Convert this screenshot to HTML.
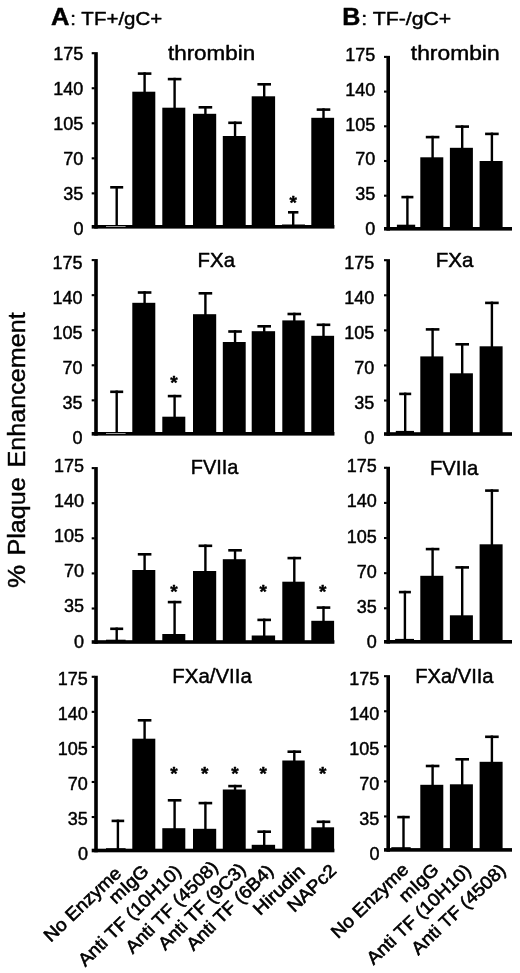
<!DOCTYPE html>
<html lang="en">
<head>
<meta charset="utf-8">
<title>Figure: % Plaque Enhancement</title>
<style>
html,body{margin:0;padding:0;background:#fff;}
body{width:520px;height:973px;overflow:hidden;}
svg{display:block;filter:grayscale(1);}
svg text{font-family:"Liberation Sans", Arial, Helvetica, sans-serif;fill:#000;stroke:#000;stroke-width:0.45px;stroke-linejoin:round;}
</style>
</head>
<body>
<svg width="520" height="973" viewBox="0 0 520 973">
<rect x="0" y="0" width="520" height="973" fill="#fff"/>
<g>
<rect x="94.20" y="52.15" width="3.60" height="176.45" fill="#000"/>
<rect x="91.70" y="52.15" width="3.00" height="2.10" fill="#000"/>
<text x="83.40" y="60.20" font-size="18" text-anchor="end" font-weight="normal">175</text>
<rect x="91.70" y="87.19" width="3.00" height="2.10" fill="#000"/>
<text x="83.40" y="95.24" font-size="18" text-anchor="end" font-weight="normal">140</text>
<rect x="91.70" y="122.23" width="3.00" height="2.10" fill="#000"/>
<text x="83.40" y="130.28" font-size="18" text-anchor="end" font-weight="normal">105</text>
<rect x="91.70" y="157.27" width="3.00" height="2.10" fill="#000"/>
<text x="83.40" y="165.32" font-size="18" text-anchor="end" font-weight="normal">70</text>
<rect x="91.70" y="192.31" width="3.00" height="2.10" fill="#000"/>
<text x="83.40" y="200.36" font-size="18" text-anchor="end" font-weight="normal">35</text>
<text x="83.40" y="235.40" font-size="18" text-anchor="end" font-weight="normal">0</text>
<rect x="91.70" y="225.00" width="242.70" height="3.60" fill="#000"/>
<rect x="115.50" y="186.00" width="2.40" height="41.40" fill="#000"/>
<rect x="110.20" y="186.00" width="13.00" height="2.60" fill="#000"/>
<rect x="106.00" y="226.00" width="19.60" height="1.00" fill="#999"/>
<rect x="143.40" y="72.30" width="2.40" height="20.40" fill="#000"/>
<rect x="137.80" y="72.30" width="13.60" height="2.60" fill="#000"/>
<rect x="132.30" y="91.70" width="23.00" height="135.70" fill="#000"/>
<rect x="173.40" y="77.80" width="2.40" height="30.90" fill="#000"/>
<rect x="167.80" y="77.80" width="13.60" height="2.60" fill="#000"/>
<rect x="162.30" y="107.70" width="23.00" height="119.70" fill="#000"/>
<rect x="204.20" y="106.00" width="2.40" height="8.80" fill="#000"/>
<rect x="198.60" y="106.00" width="13.60" height="2.60" fill="#000"/>
<rect x="193.00" y="113.80" width="23.20" height="113.60" fill="#000"/>
<rect x="233.85" y="121.50" width="2.40" height="15.50" fill="#000"/>
<rect x="228.25" y="121.50" width="13.60" height="2.60" fill="#000"/>
<rect x="222.80" y="136.00" width="22.90" height="91.40" fill="#000"/>
<rect x="263.00" y="83.00" width="2.40" height="14.30" fill="#000"/>
<rect x="257.40" y="83.00" width="13.60" height="2.60" fill="#000"/>
<rect x="251.70" y="96.30" width="23.40" height="131.10" fill="#000"/>
<rect x="292.00" y="211.00" width="2.40" height="16.40" fill="#000"/>
<rect x="288.00" y="211.00" width="10.40" height="2.60" fill="#000"/>
<rect x="282.00" y="224.50" width="23.00" height="2.90" fill="#000"/>
<rect x="322.30" y="108.30" width="2.40" height="10.50" fill="#000"/>
<rect x="316.70" y="108.30" width="13.60" height="2.60" fill="#000"/>
<rect x="311.30" y="117.80" width="22.80" height="109.60" fill="#000"/>
<text x="293.20" y="208.72" font-size="19" text-anchor="middle" font-weight="bold">*</text>
<text transform="translate(167.96 60.00) scale(1.1213 1)" font-size="20" font-weight="normal">thrombin</text>
</g>
<g>
<rect x="94.20" y="259.05" width="3.60" height="176.55" fill="#000"/>
<rect x="91.70" y="259.05" width="3.00" height="2.10" fill="#000"/>
<text x="82.60" y="269.00" font-size="18" text-anchor="end" font-weight="normal">175</text>
<rect x="91.70" y="294.11" width="3.00" height="2.10" fill="#000"/>
<text x="82.60" y="304.06" font-size="18" text-anchor="end" font-weight="normal">140</text>
<rect x="91.70" y="329.17" width="3.00" height="2.10" fill="#000"/>
<text x="82.60" y="339.12" font-size="18" text-anchor="end" font-weight="normal">105</text>
<rect x="91.70" y="364.23" width="3.00" height="2.10" fill="#000"/>
<text x="82.60" y="374.18" font-size="18" text-anchor="end" font-weight="normal">70</text>
<rect x="91.70" y="399.29" width="3.00" height="2.10" fill="#000"/>
<text x="82.60" y="409.24" font-size="18" text-anchor="end" font-weight="normal">35</text>
<text x="82.60" y="444.30" font-size="18" text-anchor="end" font-weight="normal">0</text>
<rect x="91.70" y="432.00" width="242.70" height="3.60" fill="#000"/>
<rect x="115.50" y="390.50" width="2.40" height="43.90" fill="#000"/>
<rect x="110.20" y="390.50" width="13.00" height="2.60" fill="#000"/>
<rect x="106.00" y="433.00" width="19.60" height="1.00" fill="#999"/>
<rect x="143.40" y="291.20" width="2.40" height="12.60" fill="#000"/>
<rect x="137.80" y="291.20" width="13.60" height="2.60" fill="#000"/>
<rect x="132.30" y="302.80" width="23.00" height="131.60" fill="#000"/>
<rect x="173.40" y="394.80" width="2.40" height="22.90" fill="#000"/>
<rect x="167.80" y="394.80" width="13.60" height="2.60" fill="#000"/>
<rect x="162.30" y="416.70" width="23.00" height="17.70" fill="#000"/>
<rect x="204.20" y="292.00" width="2.40" height="23.20" fill="#000"/>
<rect x="198.60" y="292.00" width="13.60" height="2.60" fill="#000"/>
<rect x="193.00" y="314.20" width="23.20" height="120.20" fill="#000"/>
<rect x="233.85" y="330.20" width="2.40" height="12.80" fill="#000"/>
<rect x="228.25" y="330.20" width="13.60" height="2.60" fill="#000"/>
<rect x="222.80" y="342.00" width="22.90" height="92.40" fill="#000"/>
<rect x="263.00" y="325.00" width="2.40" height="7.20" fill="#000"/>
<rect x="257.40" y="325.00" width="13.60" height="2.60" fill="#000"/>
<rect x="251.70" y="331.20" width="23.40" height="103.20" fill="#000"/>
<rect x="293.10" y="312.70" width="2.40" height="8.70" fill="#000"/>
<rect x="287.50" y="312.70" width="13.60" height="2.60" fill="#000"/>
<rect x="282.30" y="320.40" width="22.40" height="114.00" fill="#000"/>
<rect x="322.30" y="323.50" width="2.40" height="13.30" fill="#000"/>
<rect x="316.70" y="323.50" width="13.60" height="2.60" fill="#000"/>
<rect x="311.30" y="335.80" width="22.80" height="98.60" fill="#000"/>
<text x="174.00" y="389.12" font-size="19" text-anchor="middle" font-weight="bold">*</text>
<text transform="translate(197.62 266.70) scale(0.9889 1)" font-size="20.6" font-weight="normal">FXa</text>
</g>
<g>
<rect x="94.20" y="467.05" width="3.60" height="176.75" fill="#000"/>
<rect x="91.70" y="467.05" width="3.00" height="2.10" fill="#000"/>
<text x="84.10" y="472.00" font-size="18" text-anchor="end" font-weight="normal">175</text>
<rect x="91.70" y="502.15" width="3.00" height="2.10" fill="#000"/>
<text x="84.10" y="507.10" font-size="18" text-anchor="end" font-weight="normal">140</text>
<rect x="91.70" y="537.25" width="3.00" height="2.10" fill="#000"/>
<text x="84.10" y="542.20" font-size="18" text-anchor="end" font-weight="normal">105</text>
<rect x="91.70" y="572.35" width="3.00" height="2.10" fill="#000"/>
<text x="84.10" y="577.30" font-size="18" text-anchor="end" font-weight="normal">70</text>
<rect x="91.70" y="607.45" width="3.00" height="2.10" fill="#000"/>
<text x="84.10" y="612.40" font-size="18" text-anchor="end" font-weight="normal">35</text>
<text x="84.10" y="647.50" font-size="18" text-anchor="end" font-weight="normal">0</text>
<rect x="91.70" y="640.20" width="242.70" height="3.60" fill="#000"/>
<rect x="115.50" y="627.50" width="2.40" height="15.10" fill="#000"/>
<rect x="110.20" y="627.50" width="13.00" height="2.60" fill="#000"/>
<rect x="106.00" y="639.70" width="19.60" height="2.90" fill="#000"/>
<rect x="143.40" y="553.00" width="2.40" height="18.00" fill="#000"/>
<rect x="137.80" y="553.00" width="13.60" height="2.60" fill="#000"/>
<rect x="132.30" y="570.00" width="23.00" height="72.60" fill="#000"/>
<rect x="173.40" y="600.80" width="2.40" height="34.20" fill="#000"/>
<rect x="167.80" y="600.80" width="13.60" height="2.60" fill="#000"/>
<rect x="162.30" y="634.00" width="23.00" height="8.60" fill="#000"/>
<rect x="204.20" y="544.50" width="2.40" height="27.50" fill="#000"/>
<rect x="198.60" y="544.50" width="13.60" height="2.60" fill="#000"/>
<rect x="193.00" y="571.00" width="23.20" height="71.60" fill="#000"/>
<rect x="233.85" y="549.00" width="2.40" height="11.20" fill="#000"/>
<rect x="228.25" y="549.00" width="13.60" height="2.60" fill="#000"/>
<rect x="222.80" y="559.20" width="22.90" height="83.40" fill="#000"/>
<rect x="263.00" y="618.60" width="2.40" height="17.90" fill="#000"/>
<rect x="257.40" y="618.60" width="13.60" height="2.60" fill="#000"/>
<rect x="251.70" y="635.50" width="23.40" height="7.10" fill="#000"/>
<rect x="293.10" y="556.80" width="2.40" height="25.90" fill="#000"/>
<rect x="287.50" y="556.80" width="13.60" height="2.60" fill="#000"/>
<rect x="282.30" y="581.70" width="22.40" height="60.90" fill="#000"/>
<rect x="322.30" y="606.30" width="2.40" height="15.50" fill="#000"/>
<rect x="316.70" y="606.30" width="13.60" height="2.60" fill="#000"/>
<rect x="311.30" y="620.80" width="22.80" height="21.80" fill="#000"/>
<text x="174.00" y="597.72" font-size="19" text-anchor="middle" font-weight="bold">*</text>
<text x="263.20" y="597.72" font-size="19" text-anchor="middle" font-weight="bold">*</text>
<text x="322.70" y="597.72" font-size="19" text-anchor="middle" font-weight="bold">*</text>
<text transform="translate(190.75 474.30) scale(0.9698 1)" font-size="20.6" font-weight="normal">FVIIa</text>
</g>
<g>
<rect x="94.20" y="675.75" width="3.60" height="176.55" fill="#000"/>
<rect x="91.70" y="675.75" width="3.00" height="2.10" fill="#000"/>
<text x="87.90" y="685.10" font-size="18" text-anchor="end" font-weight="normal">175</text>
<rect x="91.70" y="710.81" width="3.00" height="2.10" fill="#000"/>
<text x="87.90" y="720.16" font-size="18" text-anchor="end" font-weight="normal">140</text>
<rect x="91.70" y="745.87" width="3.00" height="2.10" fill="#000"/>
<text x="87.90" y="755.22" font-size="18" text-anchor="end" font-weight="normal">105</text>
<rect x="91.70" y="780.93" width="3.00" height="2.10" fill="#000"/>
<text x="87.90" y="790.28" font-size="18" text-anchor="end" font-weight="normal">70</text>
<rect x="91.70" y="815.99" width="3.00" height="2.10" fill="#000"/>
<text x="87.90" y="825.34" font-size="18" text-anchor="end" font-weight="normal">35</text>
<text x="87.90" y="860.40" font-size="18" text-anchor="end" font-weight="normal">0</text>
<rect x="91.70" y="848.70" width="242.70" height="3.60" fill="#000"/>
<rect x="116.70" y="819.60" width="2.40" height="31.50" fill="#000"/>
<rect x="111.60" y="819.60" width="12.60" height="2.60" fill="#000"/>
<rect x="106.00" y="848.20" width="19.60" height="2.90" fill="#000"/>
<rect x="143.40" y="719.00" width="2.40" height="20.70" fill="#000"/>
<rect x="137.80" y="719.00" width="13.60" height="2.60" fill="#000"/>
<rect x="132.30" y="738.70" width="23.00" height="112.40" fill="#000"/>
<rect x="173.40" y="799.00" width="2.40" height="30.20" fill="#000"/>
<rect x="167.80" y="799.00" width="13.60" height="2.60" fill="#000"/>
<rect x="162.30" y="828.20" width="23.00" height="22.90" fill="#000"/>
<rect x="204.20" y="801.80" width="2.40" height="28.00" fill="#000"/>
<rect x="198.60" y="801.80" width="13.60" height="2.60" fill="#000"/>
<rect x="193.00" y="828.80" width="23.20" height="22.30" fill="#000"/>
<rect x="233.85" y="784.80" width="2.40" height="5.70" fill="#000"/>
<rect x="228.25" y="784.80" width="13.60" height="2.60" fill="#000"/>
<rect x="222.80" y="789.50" width="22.90" height="61.60" fill="#000"/>
<rect x="263.00" y="830.40" width="2.40" height="15.40" fill="#000"/>
<rect x="257.40" y="830.40" width="13.60" height="2.60" fill="#000"/>
<rect x="251.70" y="844.80" width="23.40" height="6.30" fill="#000"/>
<rect x="293.10" y="750.40" width="2.40" height="11.10" fill="#000"/>
<rect x="287.50" y="750.40" width="13.60" height="2.60" fill="#000"/>
<rect x="282.30" y="760.50" width="22.40" height="90.60" fill="#000"/>
<rect x="322.30" y="820.50" width="2.40" height="7.80" fill="#000"/>
<rect x="316.70" y="820.50" width="13.60" height="2.60" fill="#000"/>
<rect x="311.30" y="827.30" width="22.80" height="23.80" fill="#000"/>
<text x="174.00" y="780.02" font-size="19" text-anchor="middle" font-weight="bold">*</text>
<text x="204.80" y="780.02" font-size="19" text-anchor="middle" font-weight="bold">*</text>
<text x="235.00" y="780.02" font-size="19" text-anchor="middle" font-weight="bold">*</text>
<text x="263.20" y="780.02" font-size="19" text-anchor="middle" font-weight="bold">*</text>
<text x="322.70" y="780.02" font-size="19" text-anchor="middle" font-weight="bold">*</text>
<text transform="translate(172.32 682.80) scale(0.9913 1)" font-size="20.6" font-weight="normal">FXa/VIIa</text>
</g>
<g>
<rect x="386.40" y="55.85" width="3.60" height="174.75" fill="#000"/>
<rect x="384.00" y="55.85" width="2.90" height="2.10" fill="#000"/>
<text x="375.30" y="61.10" font-size="18" text-anchor="end" font-weight="normal">175</text>
<rect x="384.00" y="90.55" width="2.90" height="2.10" fill="#000"/>
<text x="375.30" y="95.80" font-size="18" text-anchor="end" font-weight="normal">140</text>
<rect x="384.00" y="125.25" width="2.90" height="2.10" fill="#000"/>
<text x="375.30" y="130.50" font-size="18" text-anchor="end" font-weight="normal">105</text>
<rect x="384.00" y="159.95" width="2.90" height="2.10" fill="#000"/>
<text x="375.30" y="165.20" font-size="18" text-anchor="end" font-weight="normal">70</text>
<rect x="384.00" y="194.65" width="2.90" height="2.10" fill="#000"/>
<text x="375.30" y="199.90" font-size="18" text-anchor="end" font-weight="normal">35</text>
<text x="375.30" y="234.60" font-size="18" text-anchor="end" font-weight="normal">0</text>
<rect x="384.00" y="227.00" width="128.00" height="3.60" fill="#000"/>
<rect x="406.20" y="195.80" width="2.40" height="29.90" fill="#000"/>
<rect x="401.40" y="195.80" width="12.00" height="2.60" fill="#000"/>
<rect x="396.90" y="224.70" width="18.30" height="4.70" fill="#000"/>
<rect x="431.40" y="135.80" width="2.40" height="22.50" fill="#000"/>
<rect x="425.80" y="135.80" width="13.60" height="2.60" fill="#000"/>
<rect x="420.30" y="157.30" width="23.00" height="72.10" fill="#000"/>
<rect x="461.00" y="125.30" width="2.40" height="23.50" fill="#000"/>
<rect x="455.40" y="125.30" width="13.60" height="2.60" fill="#000"/>
<rect x="449.90" y="147.80" width="23.00" height="81.60" fill="#000"/>
<rect x="490.70" y="132.60" width="2.40" height="29.40" fill="#000"/>
<rect x="485.10" y="132.60" width="13.60" height="2.60" fill="#000"/>
<rect x="479.60" y="161.00" width="23.00" height="68.40" fill="#000"/>
<text transform="translate(410.86 59.80) scale(1.1410 1)" font-size="20" font-weight="normal">thrombin</text>
</g>
<g>
<rect x="386.40" y="259.15" width="3.60" height="176.65" fill="#000"/>
<rect x="384.00" y="259.15" width="2.90" height="2.10" fill="#000"/>
<text x="374.20" y="268.70" font-size="18" text-anchor="end" font-weight="normal">175</text>
<rect x="384.00" y="294.23" width="2.90" height="2.10" fill="#000"/>
<text x="374.20" y="303.78" font-size="18" text-anchor="end" font-weight="normal">140</text>
<rect x="384.00" y="329.31" width="2.90" height="2.10" fill="#000"/>
<text x="374.20" y="338.86" font-size="18" text-anchor="end" font-weight="normal">105</text>
<rect x="384.00" y="364.39" width="2.90" height="2.10" fill="#000"/>
<text x="374.20" y="373.94" font-size="18" text-anchor="end" font-weight="normal">70</text>
<rect x="384.00" y="399.47" width="2.90" height="2.10" fill="#000"/>
<text x="374.20" y="409.02" font-size="18" text-anchor="end" font-weight="normal">35</text>
<text x="374.20" y="444.10" font-size="18" text-anchor="end" font-weight="normal">0</text>
<rect x="384.00" y="432.20" width="128.00" height="3.60" fill="#000"/>
<rect x="404.00" y="392.60" width="2.40" height="39.30" fill="#000"/>
<rect x="399.20" y="392.60" width="12.00" height="2.60" fill="#000"/>
<rect x="395.80" y="430.90" width="18.20" height="3.70" fill="#000"/>
<rect x="431.40" y="328.10" width="2.40" height="29.30" fill="#000"/>
<rect x="425.80" y="328.10" width="13.60" height="2.60" fill="#000"/>
<rect x="420.30" y="356.40" width="23.00" height="78.20" fill="#000"/>
<rect x="461.00" y="343.00" width="2.40" height="31.30" fill="#000"/>
<rect x="455.40" y="343.00" width="13.60" height="2.60" fill="#000"/>
<rect x="449.90" y="373.30" width="23.00" height="61.30" fill="#000"/>
<rect x="490.70" y="301.60" width="2.40" height="45.70" fill="#000"/>
<rect x="485.10" y="301.60" width="13.60" height="2.60" fill="#000"/>
<rect x="479.60" y="346.30" width="23.00" height="88.30" fill="#000"/>
<text transform="translate(435.70 267.30) scale(1.0000 1)" font-size="20.6" font-weight="normal">FXa</text>
</g>
<g>
<rect x="386.40" y="466.75" width="3.60" height="176.85" fill="#000"/>
<rect x="384.00" y="466.75" width="2.90" height="2.10" fill="#000"/>
<text x="376.80" y="472.30" font-size="18" text-anchor="end" font-weight="normal">175</text>
<rect x="384.00" y="501.87" width="2.90" height="2.10" fill="#000"/>
<text x="376.80" y="507.42" font-size="18" text-anchor="end" font-weight="normal">140</text>
<rect x="384.00" y="536.99" width="2.90" height="2.10" fill="#000"/>
<text x="376.80" y="542.54" font-size="18" text-anchor="end" font-weight="normal">105</text>
<rect x="384.00" y="572.11" width="2.90" height="2.10" fill="#000"/>
<text x="376.80" y="577.66" font-size="18" text-anchor="end" font-weight="normal">70</text>
<rect x="384.00" y="607.23" width="2.90" height="2.10" fill="#000"/>
<text x="376.80" y="612.78" font-size="18" text-anchor="end" font-weight="normal">35</text>
<text x="376.80" y="647.90" font-size="18" text-anchor="end" font-weight="normal">0</text>
<rect x="384.00" y="640.00" width="128.00" height="3.60" fill="#000"/>
<rect x="403.70" y="590.80" width="2.40" height="49.10" fill="#000"/>
<rect x="398.90" y="590.80" width="12.00" height="2.60" fill="#000"/>
<rect x="395.10" y="638.90" width="18.90" height="3.50" fill="#000"/>
<rect x="431.40" y="547.80" width="2.40" height="29.00" fill="#000"/>
<rect x="425.80" y="547.80" width="13.60" height="2.60" fill="#000"/>
<rect x="420.30" y="575.80" width="23.00" height="66.60" fill="#000"/>
<rect x="461.00" y="566.10" width="2.40" height="50.20" fill="#000"/>
<rect x="455.40" y="566.10" width="13.60" height="2.60" fill="#000"/>
<rect x="449.90" y="615.30" width="23.00" height="27.10" fill="#000"/>
<rect x="490.70" y="489.30" width="2.40" height="56.00" fill="#000"/>
<rect x="485.10" y="489.30" width="13.60" height="2.60" fill="#000"/>
<rect x="479.60" y="544.30" width="23.00" height="98.10" fill="#000"/>
<text transform="translate(429.93 474.90) scale(0.9845 1)" font-size="20.6" font-weight="normal">FVIIa</text>
</g>
<g>
<rect x="386.40" y="675.15" width="3.60" height="176.55" fill="#000"/>
<rect x="384.00" y="675.15" width="2.90" height="2.10" fill="#000"/>
<text x="379.40" y="685.10" font-size="18" text-anchor="end" font-weight="normal">175</text>
<rect x="384.00" y="710.21" width="2.90" height="2.10" fill="#000"/>
<text x="379.40" y="720.16" font-size="18" text-anchor="end" font-weight="normal">140</text>
<rect x="384.00" y="745.27" width="2.90" height="2.10" fill="#000"/>
<text x="379.40" y="755.22" font-size="18" text-anchor="end" font-weight="normal">105</text>
<rect x="384.00" y="780.33" width="2.90" height="2.10" fill="#000"/>
<text x="379.40" y="790.28" font-size="18" text-anchor="end" font-weight="normal">70</text>
<rect x="384.00" y="815.39" width="2.90" height="2.10" fill="#000"/>
<text x="379.40" y="825.34" font-size="18" text-anchor="end" font-weight="normal">35</text>
<text x="379.40" y="860.40" font-size="18" text-anchor="end" font-weight="normal">0</text>
<rect x="384.00" y="848.10" width="128.00" height="3.60" fill="#000"/>
<rect x="402.30" y="815.80" width="2.40" height="32.40" fill="#000"/>
<rect x="397.25" y="815.80" width="12.50" height="2.60" fill="#000"/>
<rect x="391.30" y="847.20" width="19.40" height="3.30" fill="#000"/>
<rect x="431.40" y="764.70" width="2.40" height="21.10" fill="#000"/>
<rect x="425.80" y="764.70" width="13.60" height="2.60" fill="#000"/>
<rect x="420.30" y="784.80" width="23.00" height="65.70" fill="#000"/>
<rect x="461.00" y="758.00" width="2.40" height="27.30" fill="#000"/>
<rect x="455.40" y="758.00" width="13.60" height="2.60" fill="#000"/>
<rect x="449.90" y="784.30" width="23.00" height="66.20" fill="#000"/>
<rect x="490.70" y="735.50" width="2.40" height="27.30" fill="#000"/>
<rect x="485.10" y="735.50" width="13.60" height="2.60" fill="#000"/>
<rect x="479.60" y="761.80" width="23.00" height="88.70" fill="#000"/>
<text transform="translate(415.13 682.80) scale(0.9798 1)" font-size="20.6" font-weight="normal">FXa/VIIa</text>
</g>
<text transform="translate(51.06 25.00) scale(1.1001 1)" font-size="23.2" font-weight="bold">A</text>
<text transform="translate(70.35 25.00) scale(1.0680 1)" font-size="19.2" font-weight="normal">: TF+/gC+</text>
<text transform="translate(342.31 25.00) scale(1.0811 1)" font-size="23.2" font-weight="bold">B</text>
<text transform="translate(361.28 25.00) scale(1.1085 1)" font-size="19.2" font-weight="normal">: TF-/gC+</text>
<g transform="translate(24.7 0) rotate(-90)">
<text transform="translate(-588.11 0.00) scale(1.0474 1)" font-size="24.8" font-weight="normal">%</text>
<text transform="translate(-555.58 0.00) scale(1.0150 1)" font-size="24.8" font-weight="normal">Plaque</text>
<text transform="translate(-467.58 0.00) scale(1.0160 1)" font-size="24.8" font-weight="normal">Enhancement</text>
</g>
<text transform="translate(122.50 874.60) rotate(-43.5) scale(1.065 1)" font-size="18" text-anchor="end" style="stroke-width:0.6px">No Enzyme</text>
<text transform="translate(149.80 872.40) rotate(-43.5) scale(1.065 1)" font-size="18" text-anchor="end" style="stroke-width:0.6px">mIgG</text>
<text transform="translate(182.40 872.40) rotate(-44.3) scale(1.065 1)" font-size="18" text-anchor="end" style="stroke-width:0.6px">Anti TF (10H10)</text>
<text transform="translate(219.00 868.20) rotate(-45.0) scale(1.065 1)" font-size="18" text-anchor="end" style="stroke-width:0.6px">Anti TF (4508)</text>
<text transform="translate(246.90 870.60) rotate(-44.5) scale(1.065 1)" font-size="18" text-anchor="end" style="stroke-width:0.6px">Anti TF (9C3)</text>
<text transform="translate(274.60 871.90) rotate(-44.5) scale(1.065 1)" font-size="18" text-anchor="end" style="stroke-width:0.6px">Anti TF (6B4)</text>
<text transform="translate(306.20 872.60) rotate(-43.5) scale(1.115 1)" font-size="18" text-anchor="end" style="stroke-width:0.6px">Hirudin</text>
<text transform="translate(337.40 872.00) rotate(-43.5) scale(1.065 1)" font-size="18" text-anchor="end" style="stroke-width:0.6px">NAPc2</text>
<text transform="translate(409.80 871.00) rotate(-43.5) scale(1.065 1)" font-size="18" text-anchor="end" style="stroke-width:0.6px">No Enzyme</text>
<text transform="translate(439.70 871.00) rotate(-43.5) scale(1.065 1)" font-size="18" text-anchor="end" style="stroke-width:0.6px">mIgG</text>
<text transform="translate(472.20 871.90) rotate(-43.5) scale(1.065 1)" font-size="18" text-anchor="end" style="stroke-width:0.6px">Anti TF (10H10)</text>
<text transform="translate(506.90 871.60) rotate(-43.5) scale(1.065 1)" font-size="18" text-anchor="end" style="stroke-width:0.6px">Anti TF (4508)</text>
</svg>
</body>
</html>
